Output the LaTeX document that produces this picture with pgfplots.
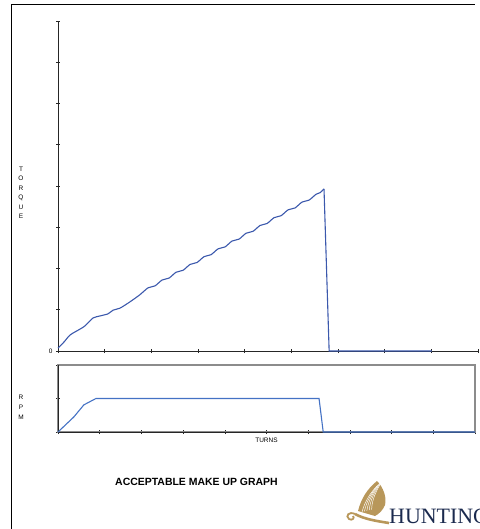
\documentclass[border=0pt]{standalone}
\usepackage{pgfplots}
\pgfplotsset{compat=1.18}
\usepackage{fontspec}
\setmainfont{Liberation Sans}
\newfontfamily\logofont{Liberation Serif}
\definecolor{torqueblue}{HTML}{3B58AC}
\definecolor{rpmblue}{HTML}{4472C4}
\definecolor{logonavy}{HTML}{1B2A4E}
\definecolor{logogold}{HTML}{B8975A}
\begin{document}
\begin{tikzpicture}[x=1bp,y=1bp]
\useasboundingbox (0,0) rectangle (480,-529);
% outer frame (left and top edge)
\draw[black, line width=1bp] (11,-529) -- (11,-5) -- (475,-5);

% torque chart
\begin{axis}[at={(58bp,-351bp)}, anchor=south west, scale only axis,
    width=420bp, height=330bp,
    xmin=0, xmax=9, ymin=0, ymax=8,
    axis x line=bottom, axis y line=left,
    axis line style={black!85, line width=0.8bp, -},
    xtick={0,...,9}, ytick={0,...,8},
    xticklabel=\empty, yticklabels={0,,,,,,,,},
    yticklabel style={font=\fontsize{6.5}{7}\selectfont},
    tick align=center, major tick length=4bp,
    tick style={black!85, line width=0.6bp},
    clip=false]
  \addplot[torqueblue, line width=1.1bp, smooth, tension=0.4] coordinates {
    (0,0.07) (0.13,0.22) (0.26,0.39) (0.47,0.53) (0.58,0.61) (0.75,0.80)
    (0.9,0.85) (1.07,0.90) (1.18,0.99) (1.33,1.04) (1.54,1.19) (1.75,1.36)
    (1.93,1.532) (2.08,1.579) (2.23,1.721) (2.38,1.768) (2.53,1.910)
    (2.68,1.957) (2.83,2.099) (2.98,2.146) (3.13,2.288) (3.28,2.335)
    (3.43,2.477) (3.58,2.524) (3.73,2.666) (3.88,2.713) (4.03,2.855)
    (4.18,2.902) (4.33,3.044) (4.48,3.091) (4.63,3.233) (4.78,3.280)
    (4.93,3.422) (5.08,3.469) (5.23,3.611) (5.38,3.658) (5.53,3.800)
    (5.62,3.84) (5.70,3.93)};
  \addplot[torqueblue, line width=1.1bp] coordinates {
    (5.70,3.93) (5.81,0) (8.01,0)};
\end{axis}

% rpm chart
\begin{axis}[at={(58bp,-432bp)}, anchor=south west, scale only axis,
    width=417bp, height=67bp,
    xmin=0, xmax=10, ymin=0, ymax=2,
    axis line style={black!45, line width=1.2bp},
    xtick={0,...,10}, ytick={0,1,2},
    xticklabel=\empty, yticklabel=\empty,
    tick pos=left,
    tick align=center, major tick length=4bp,
    tick style={black!85, line width=0.6bp},
    clip=false]
  \draw[black!85, line width=0.9bp] (rel axis cs:0,1) -- (rel axis cs:0,0) -- (rel axis cs:1,0);
  \addplot[rpmblue, line width=1.1bp] coordinates {
    (0,0) (0.38,0.45) (0.62,0.81) (0.91,1) (6.26,1) (6.36,0) (10,0)};
\end{axis}

% axis titles
\foreach \l/\yy in {T/169,O/178.5,R/188,Q/197.5,U/207,E/216.5}
  \node[font=\fontsize{6.5}{7}\selectfont, inner sep=0pt] at (21,-\yy) {\l};
\foreach \l/\yy in {R/397,P/407,M/417}
  \node[font=\fontsize{6.5}{7}\selectfont, inner sep=0pt] at (21,-\yy) {\l};
\node[font=\fontsize{6.5}{7}\selectfont, inner sep=0pt] at (266.5,-440) {TURNS};
\node[font=\bfseries\fontsize{10.5}{12}\selectfont, inner sep=0pt] at (196.5,-482) {ACCEPTABLE MAKE UP GRAPH};

% logo: wing
\fill[logogold] (358,-511) .. controls (361,-499) and (367,-489) .. (377,-481)
  .. controls (383,-487) and (387,-497) .. (385,-505)
  .. controls (383,-510) and (379,-514) .. (375,-516) -- cycle;
\foreach \s in {0,3,6,9,12}
  \draw[white, line width=0.45bp] (362+\s*0.8,-512+\s*0.2) .. controls (365+\s*0.6,-501+\s*0.2) and (371+\s*0.4,-492) .. (377+\s*0.4,-486+\s*0.4);
% logo: body and curl
\draw[logogold, line width=2.6bp] (355,-514) .. controls (364,-519) and (376,-521) .. (389,-523);
\draw[logogold, line width=1.8bp] (355,-514) .. controls (349,-511) and (345,-516) .. (349,-519)
  .. controls (352,-521) and (355,-518) .. (353,-516);
\node[anchor=base west, inner sep=0pt, text=logonavy, font=\logofont\fontsize{22}{22}\selectfont] at (389,-523) {HUNTING};
\end{tikzpicture}
\end{document}
